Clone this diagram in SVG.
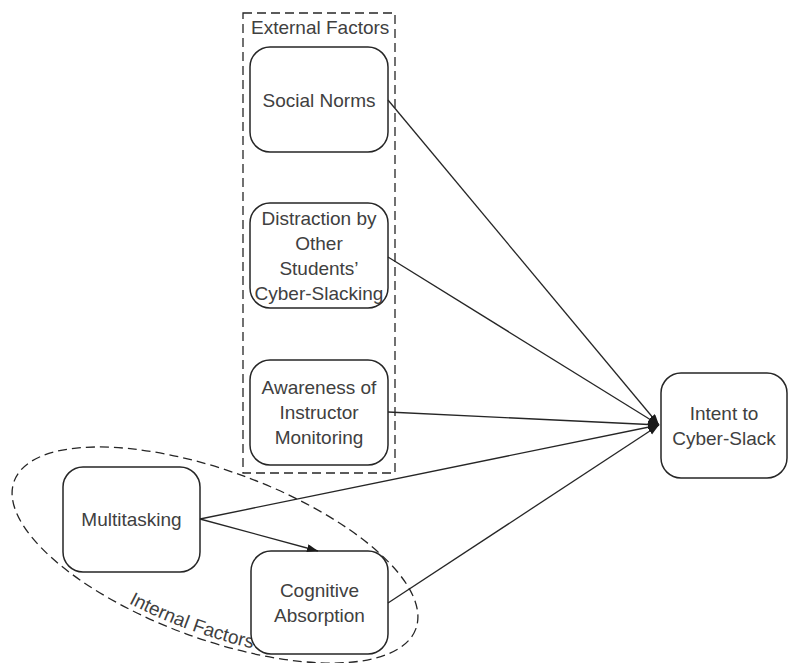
<svg xmlns="http://www.w3.org/2000/svg" width="789" height="663" viewBox="0 0 789 663">
  <style>
    .node rect { fill: #ffffff; stroke: #262626; stroke-width: 1.5; }
    .label { font-family: "Liberation Sans", Arial, sans-serif; font-size: 19px; fill: #404040; text-anchor: middle; }
    .group-label { font-family: "Liberation Sans", Arial, sans-serif; font-size: 19px; fill: #404040; }
    .dashed { fill: none; stroke: #262626; stroke-width: 1.3; stroke-dasharray: 9 5; }
    .conn line { stroke: #262626; stroke-width: 1.3; fill: none; marker-end: url(#arrow); }
  </style>
  <defs>
    <marker id="arrow" markerUnits="userSpaceOnUse" markerWidth="12" markerHeight="10" refX="11" refY="4" orient="auto">
      <path d="M0,0 L11,4 L0,8 z" fill="#1a1a1a"/>
    </marker>
    <path id="internalPath" d="M128.5,603.2 A209,79 20.2 0 0 371.3,654.6"/>
  </defs>
  <rect width="789" height="663" fill="#ffffff"/>

  <g id="external-factors">
    <rect class="dashed" x="243" y="13" width="152" height="460"/>
    <text class="group-label" x="251" y="34">External Factors</text>
  </g>

  <g id="internal-factors">
    <ellipse class="dashed" cx="215" cy="555" rx="214" ry="84" transform="rotate(20.2 215 555)"/>
    <text class="group-label"><textPath href="#internalPath">Internal Factors</textPath></text>
  </g>

  <g id="social-norms" class="node">
    <rect x="250" y="47" width="138" height="105" rx="20" ry="20"/>
    <text class="label" x="319" y="106.5">Social Norms</text>
  </g>

  <g id="distraction" class="node">
    <rect x="250" y="203" width="138" height="105" rx="20" ry="20"/>
    <text class="label" x="319" y="224.5">Distraction by</text>
    <text class="label" x="319" y="249.5">Other</text>
    <text class="label" x="319" y="274.5">Students’</text>
    <text class="label" x="319" y="299.5">Cyber-Slacking</text>
  </g>

  <g id="awareness" class="node">
    <rect x="250" y="360" width="138" height="105" rx="20" ry="20"/>
    <text class="label" x="319" y="393.5">Awareness of</text>
    <text class="label" x="319" y="418.5">Instructor</text>
    <text class="label" x="319" y="443.5">Monitoring</text>
  </g>

  <g id="multitasking" class="node">
    <rect x="63" y="467" width="137" height="105" rx="20" ry="20"/>
    <text class="label" x="131.5" y="525.5">Multitasking</text>
  </g>

  <g id="cognitive-absorption" class="node">
    <rect x="251" y="551" width="137" height="103" rx="20" ry="20"/>
    <text class="label" x="319.5" y="596.5">Cognitive</text>
    <text class="label" x="319.5" y="621.5">Absorption</text>
  </g>

  <g id="intent" class="node">
    <rect x="661" y="373" width="126" height="105" rx="20" ry="20"/>
    <text class="label" x="724" y="419.5">Intent to</text>
    <text class="label" x="724" y="444.5">Cyber-Slack</text>
  </g>

  <g id="connectors" class="conn">
    <line x1="388" y1="100" x2="659" y2="425"/>
    <line x1="388" y1="257" x2="659" y2="425"/>
    <line x1="388" y1="412" x2="659" y2="425"/>
    <line x1="200" y1="519" x2="659" y2="425"/>
    <line x1="388" y1="603" x2="659" y2="425"/>
    <line x1="200" y1="519" x2="318" y2="551"/>
  </g>
</svg>
